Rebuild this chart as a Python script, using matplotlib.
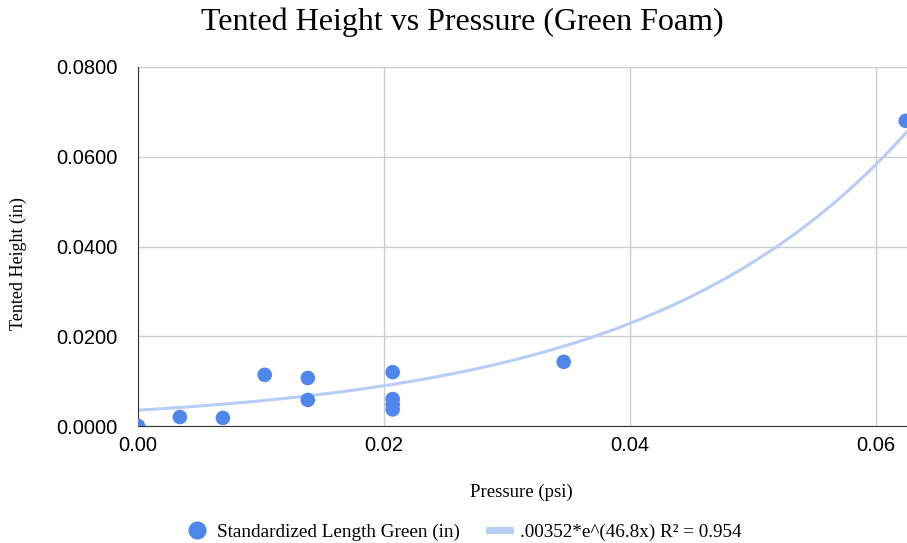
import numpy as np
import matplotlib
matplotlib.use("Agg")
import matplotlib.pyplot as plt
from matplotlib.lines import Line2D

pressure = [0.0, 0.0034, 0.0069, 0.0103, 0.0138, 0.0138, 0.0207, 0.0207, 0.0207, 0.0207, 0.0346, 0.0624]
height = [0.0, 0.0020, 0.0018, 0.0114, 0.0107, 0.0058, 0.0120, 0.0060, 0.0048, 0.0037, 0.0143, 0.0680]
fit_a = 0.00352
fit_b = 46.8
xticks = [0.0, 0.02, 0.04, 0.06]
xticklabels = ["0.00", "0.02", "0.04", "0.06"]
yticks = [0.0, 0.02, 0.04, 0.06, 0.08]
yticklabels = ["0.0000", "0.0200", "0.0400", "0.0600", "0.0800"]

serif = "Liberation Serif"
sans = "Liberation Sans"

fig = plt.figure(figsize=(9.07, 5.43), dpi=100)
ax = fig.add_axes([138/907, 1-426/543, (907-138)/907, (426-67)/543])

xmax = 0.0625
xs = np.linspace(-0.001, xmax + 0.001, 300)
ax.plot(xs, fit_a*np.exp(fit_b*xs), color="#b7cdf5", lw=2.2, zorder=2)
ax.scatter(pressure, height, s=110, color="#4f86ec", zorder=3, clip_on=True, edgecolors="none")

ax.set_xlim(0, xmax)
ax.set_ylim(0, 0.08)
ax.set_xticks(xticks)
ax.set_xticklabels(xticklabels, fontfamily=sans, fontsize=14.5)
ax.set_yticks(yticks)
ax.set_yticklabels(yticklabels, fontfamily=sans, fontsize=14.5)
ax.tick_params(axis="x", length=0, pad=7)
ax.tick_params(axis="y", length=0, pad=15)
ax.grid(True, color="#cccccc", lw=1)
ax.set_axisbelow(True)
for s in ["top", "right"]:
    ax.spines[s].set_visible(False)
ax.spines["left"].set_color("#333333")
ax.spines["bottom"].set_color("#333333")

fig.text(462/907, 1-22/543, "Tented Height vs Pressure (Green Foam)", ha="center", va="center",
         fontfamily=serif, fontsize=23)
fig.text(18/907, 1-264/543, "Tented Height (in)", rotation=90, ha="center", va="center",
         fontfamily=serif, fontsize=13)
fig.text(521/907, 1-492/543, "Pressure (psi)", ha="center", va="center",
         fontfamily=serif, fontsize=13.5)

handles = [Line2D([], [], marker="o", ls="none", color="#4f86ec", markersize=12),
           Line2D([], [], color="#b7cdf5", lw=5)]
labels = ["Standardized Length Green (in)", ".00352*e^(46.8x) R² = 0.954"]
fig.legend(handles, labels, loc="center", bbox_to_anchor=(464/907, 1-532/543), ncol=2,
           frameon=False, prop={"family": serif, "size": 13.8}, handlelength=1.1,
           columnspacing=1.5, handletextpad=0.5)

fig.savefig("out.png", dpi=100)
